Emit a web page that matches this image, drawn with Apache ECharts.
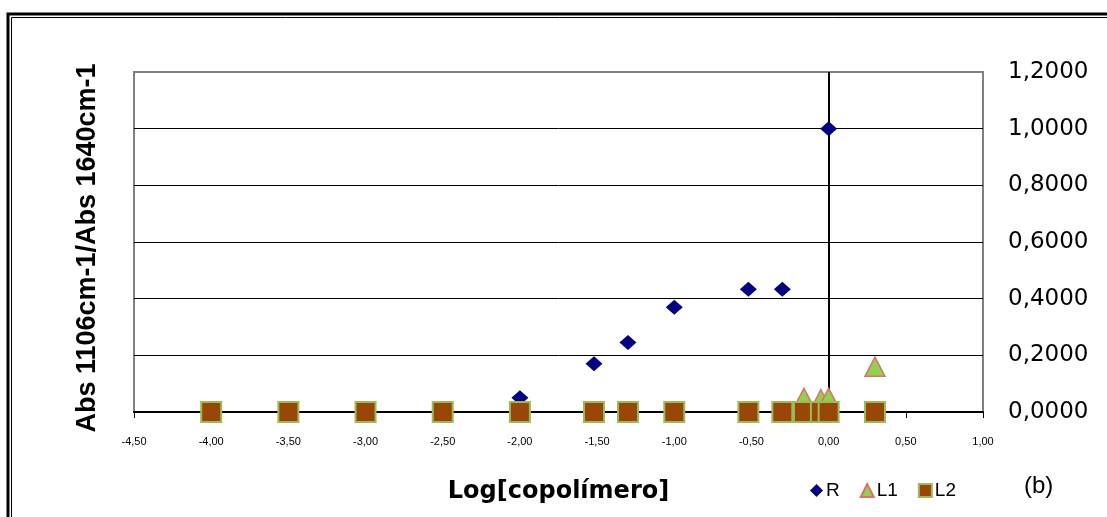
<!DOCTYPE html>
<html>
<head>
<meta charset="utf-8">
<script src="https://cdn.jsdelivr.net/npm/echarts@6/dist/echarts.min.js"></script>
<style>
html,body{margin:0;padding:0;background:#fff;}
#chart{width:1107px;height:517px;}
</style>
</head>
<body>
<div id="chart"></div>
<script>
// Data
const xR = [-2.00, -1.52, -1.30, -1.00, -0.52, -0.30, 0.00];
const yR = [0.050, 0.170, 0.245, 0.370, 0.433, 0.433, 1.000];
const xL1 = [-0.16, -0.05, 0.00, 0.30];
const yL1 = [0.050, 0.045, 0.050, 0.160];
const xL2 = [-4.00, -3.50, -3.00, -2.50, -2.00, -1.52, -1.30, -1.00, -0.52, -0.30, -0.16, -0.05, 0.00, 0.30];
const yL2 = [0, 0, 0, 0, 0, 0, 0, 0, 0, 0, 0, 0, 0, 0];
const seriesNames = ['R', 'L1', 'L2'];
const xTitle = 'Log[copolímero]';
const yTitle = 'Abs 1106cm-1/Abs 1640cm-1';
const panelLabel = '(b)';

const pairs = (xs, ys) => xs.map((x, i) => [x, ys[i]]);
const FONT = '"Liberation Sans", Arial, sans-serif';
const WIDE = '"DejaVu Sans", "Liberation Sans", sans-serif';

const chart = echarts.init(document.getElementById('chart'), null, {renderer: 'canvas'});
chart.setOption({
  animation: false,
  backgroundColor: '#fff',
  textStyle: {fontFamily: FONT},
  grid: {
    left: 134, right: 124, top: 72, bottom: 105,
    show: true, borderColor: '#808080', borderWidth: 2, backgroundColor: 'transparent'
  },
  xAxis: {
    type: 'value', min: -4.5, max: 1, interval: 0.5, z: 1,
    name: xTitle, nameLocation: 'middle', nameGap: 68,
    nameTextStyle: {fontSize: 24, fontWeight: 'bold', color: '#000', fontFamily: WIDE},
    axisLine: {show: true, onZero: false, lineStyle: {color: '#000', width: 2}},
    axisTick: {show: true, inside: false, length: 6, lineStyle: {color: '#000', width: 1}},
    axisLabel: {
      fontSize: 11, color: '#000', margin: 24, fontFamily: FONT,
      formatter: v => v.toFixed(2).replace('.', ',')
    },
    splitLine: {show: false}
  },
  yAxis: {
    type: 'value', position: 'right', min: 0, max: 1.2, interval: 0.2, z: 1,
    axisLine: {show: false},
    axisTick: {show: false},
    axisLabel: {
      fontSize: 23, color: '#000', margin: 25, fontFamily: WIDE,
      formatter: v => v.toFixed(4).replace('.', ',')
    },
    splitLine: {show: true, showMinLine: false, showMaxLine: false, lineStyle: {color: '#000', width: 1}}
  },
  legend: {
    left: 805, top: 476,
    itemWidth: 13, itemHeight: 13, itemGap: 20,
    textStyle: {fontSize: 19, color: '#000', fontFamily: FONT, padding: [0, 0, 0, -2]},
    data: [
      {name: seriesNames[0], icon: 'diamond'},
      {name: seriesNames[1], icon: 'triangle'},
      {name: seriesNames[2], icon: 'rect'}
    ]
  },
  graphic: [
    {type: 'rect', silent: true, shape: {x: 8, y: 14, width: 1200, height: 600},
     style: {fill: 'none', stroke: '#000', lineWidth: 3}},
    {type: 'rect', silent: true, shape: {x: 11.5, y: 17.5, width: 1200, height: 600},
     style: {fill: 'none', stroke: '#000', lineWidth: 1}},
    {type: 'text', silent: true, x: 88, y: 248, rotation: Math.PI / 2,
     style: {text: yTitle, fontSize: 27, fontWeight: 'bold', fill: '#000', fontFamily: FONT,
             align: 'center', verticalAlign: 'middle'}},
    {type: 'text', silent: true, x: 1024, y: 486,
     style: {text: panelLabel, fontSize: 24, fill: '#000', fontFamily: FONT,
             align: 'left', verticalAlign: 'middle'}}
  ],
  series: [
    {
      name: seriesNames[0], type: 'scatter', clip: false, z: 10,
      symbol: 'diamond', symbolSize: [17, 15],
      itemStyle: {color: '#000080', opacity: 1},
      data: pairs(xR, yR),
      markLine: {
        silent: true, symbol: 'none', label: {show: false},
        lineStyle: {color: '#000', width: 2, type: 'solid', opacity: 1},
        data: [{xAxis: 0}]
      }
    },
    {
      name: seriesNames[1], type: 'scatter', clip: false, z: 10,
      symbol: 'triangle', symbolSize: [20, 19],
      itemStyle: {color: '#92D050', borderColor: '#D9736B', borderWidth: 1.5, opacity: 1},
      data: pairs(xL1, yL1)
    },
    {
      name: seriesNames[2], type: 'scatter', clip: false, z: 10,
      symbol: 'rect', symbolSize: 20,
      itemStyle: {color: '#994708', borderColor: '#9BBB59', borderWidth: 2, opacity: 1},
      data: pairs(xL2, yL2)
    }
  ]
});
</script>
</body>
</html>
